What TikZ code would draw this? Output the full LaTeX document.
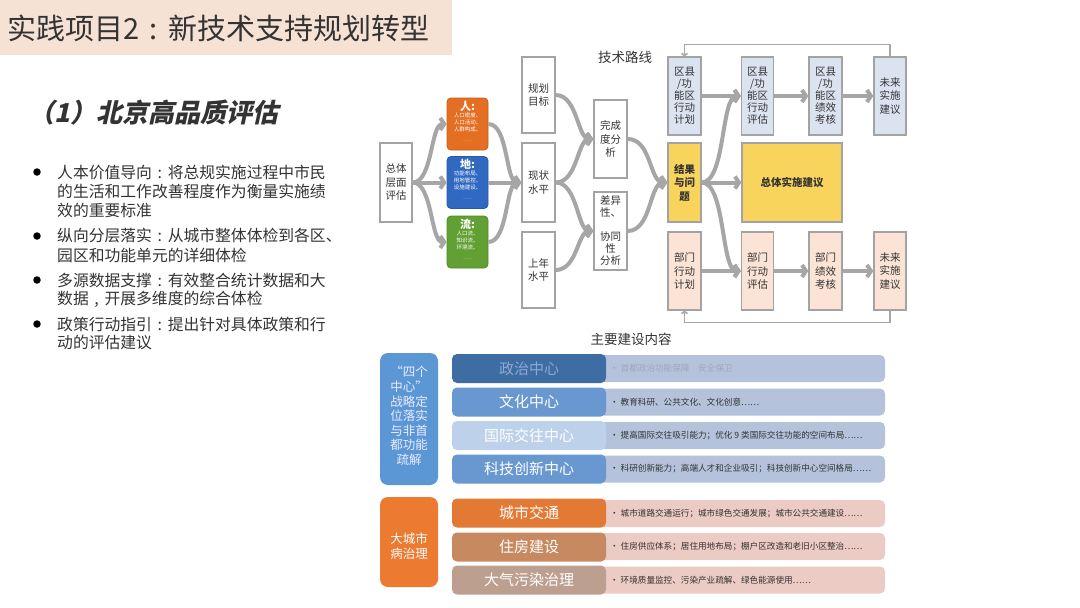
\documentclass[tikz,border=0pt]{standalone}
\usepackage{fontspec}
\setmainfont{Noto Sans CJK SC}
\newfontfamily\subfont{Noto Sans CJK SC}[UprightFeatures={FakeSlant=0.22}, BoldFeatures={FakeSlant=0.22}]
\usetikzlibrary{arrows.meta}
\newcommand{\cnc}{\hspace{0.36em}:\hspace{0.36em}}
\newcommand{\cnm}{\hspace{0.36em},\hspace{0.36em}}
\definecolor{txt}{HTML}{333333}
\definecolor{bd}{HTML}{A3A3A3}
\definecolor{arr}{HTML}{A6A6A6}
\definecolor{banner}{HTML}{F6E2D4}
\definecolor{qx}{HTML}{DCE3F0}
\definecolor{bm}{HTML}{FBE3D6}
\definecolor{yl}{HTML}{F9D45C}
\definecolor{corg}{HTML}{E46F22}
\definecolor{cblu}{HTML}{3169C2}
\definecolor{cgrn}{HTML}{62A034}
\definecolor{lblue}{HTML}{5B97D5}
\definecolor{lorg}{HTML}{EC7A30}
\definecolor{zzc}{HTML}{3E6DA4}
\definecolor{zzt}{HTML}{8EA9CF}
\definecolor{whc}{HTML}{6898CF}
\definecolor{gjc}{HTML}{BDD1EA}
\definecolor{csc}{HTML}{E27A35}
\definecolor{zfc}{HTML}{C78A60}
\definecolor{dqc}{HTML}{BC9F8F}
\definecolor{cbl}{HTML}{B4C3DB}
\definecolor{cpk}{HTML}{EBCBC3}
\definecolor{ctx}{HTML}{333333}
\begin{document}
\begin{tikzpicture}[x=1pt,y=-1pt,
 wbox/.style={draw=bd, line width=1.3pt, fill=white, align=center, inner sep=0pt, text=txt, font=\fontsize{10.5}{13.5}\selectfont},
 qbox/.style={wbox, fill=qx, font=\fontsize{10.5}{12}\selectfont},
 pbox/.style={wbox, fill=bm},
 ybox/.style={wbox, fill=yl, font=\fontsize{10.5}{13.5}\selectfont\bfseries},
 cbox/.style={rounded corners=4pt, draw=#1!85!black, line width=0.8pt, fill=#1, minimum width=41pt, minimum height=52pt, inner sep=0pt},
 chead/.style={font=\fontsize{11}{12}\selectfont\bfseries, text=white, inner sep=0pt},
 cbody/.style={font=\fontsize{5.5}{7}\selectfont, text=white, align=center, inner sep=0pt},
 cdots/.style={font=\fontsize{4}{5}\selectfont, text=white, inner sep=0pt},
 arw/.style={draw=arr, line width=4pt, -{Straight Barb[length=4pt,width=12pt]}},
 fb/.style={draw=arr, line width=1.6pt, -{Straight Barb[length=2pt,width=6pt]}},
 bul/.style={circle, fill=black, minimum size=7.5pt, inner sep=0pt},
 btxt/.style={anchor=west, font=\fontsize{15.8}{17}\selectfont, text=txt, inner sep=0pt},
 lab/.style={rounded corners=5pt, minimum width=154pt, minimum height=29pt, inner sep=0pt, font=\fontsize{15}{16}\selectfont},
 cont/.style={rounded corners=5pt, minimum width=285pt, minimum height=27pt, inner sep=0pt},
 ctext/.style={anchor=west, font=\fontsize{8.6}{10}\selectfont, text=ctx, inner sep=0pt},
]
\useasboundingbox (0,0) rectangle (1080,608);
\fill[white] (0,0) rectangle (1080,608);

% title
\node[fill=banner, minimum width=452pt, minimum height=55pt, anchor=north west, inner sep=0pt] (banner) at (0,0) {};
\node[anchor=west, font=\fontsize{29}{30}\selectfont, text=txt, inner sep=0pt] (title) at (7,28) {实践项目2\cnc 新技术支持规划转型};
\node[anchor=west, font=\fontsize{26}{27}\subfont\bfseries, text=txt, inner sep=0pt] (sub) at (28,113) {（1）北京高品质评估};

% bullets
\node[bul] (b1) at (37,172) {};
\node[btxt] (t11) at (57,172) {人本价值导向\cnc 将总规实施过程中市民};
\node[btxt] (t12) at (57,191) {的生活和工作改善程度作为衡量实施绩};
\node[btxt] (t13) at (57,210) {效的重要标准};
\node[bul] (b2) at (37,236) {};
\node[btxt] (t21) at (57,236) {纵向分层落实\cnc 从城市整体体检到各区、};
\node[btxt] (t22) at (57,255) {园区和功能单元的详细体检};
\node[bul] (b3) at (37,280) {};
\node[btxt] (t31) at (57,280) {多源数据支撑\cnc 有效整合统计数据和大};
\node[btxt] (t32) at (57,299) {数据\cnm 开展多维度的综合体检};
\node[bul] (b4) at (37,324) {};
\node[btxt] (t41) at (57,324) {政策行动指引\cnc 提出针对具体政策和行};
\node[btxt] (t42) at (57,343) {动的评估建议};

% technical route
\node[font=\fontsize{13.5}{14}\selectfont, text=txt] (jslx) at (625,57) {技术路线};
\node[wbox, minimum width=32pt, minimum height=79pt] (zt) at (396,182.5) {总体\\层面\\评估};

\node[cbox=corg] (ren) at (467.5,124) {};
\node[chead] (renh) at (467.5,106) {人:};
\node[cbody] (renb) at (467.5,122) {人口密度、\\人口活动、\\人群构成、};
\node[cdots] (rend) at (467.5,141) {……};
\node[cbox=cblu] (di) at (467.5,182.5) {};
\node[chead] (dih) at (467.5,164.5) {地:};
\node[cbody] (dib) at (467.5,180.5) {功能布局、\\用地管控、\\设施建设、};
\node[cdots] (did) at (467.5,199.5) {……};
\node[cbox=cgrn] (liu) at (467.5,242) {};
\node[chead] (liuh) at (467.5,224) {流:};
\node[cbody] (liub) at (467.5,240) {人口流、\\知识流、\\环境流、};
\node[cdots] (liud) at (467.5,259) {……};

\node[wbox, minimum width=33pt, minimum height=76pt] (gh) at (538.5,95) {规划\\目标};
\node[wbox, minimum width=33pt, minimum height=79pt] (xz) at (538.5,182.5) {现状\\水平};
\node[wbox, minimum width=33pt, minimum height=76pt] (sn) at (538.5,270) {上年\\水平};
\node[wbox, minimum width=33pt, minimum height=78pt] (wc) at (610.5,139) {完成\\度分\\析};
\node[wbox, minimum width=33pt, minimum height=78pt, font=\fontsize{10.5}{12}\selectfont] (cy) at (610.5,231) {差异\\性、\\ \\协同\\性\\分析};

\node[qbox, minimum width=33pt, minimum height=78pt] (qjh) at (684.5,96) {区县\\/功\\能区\\行动\\计划};
\node[qbox, minimum width=32pt, minimum height=78pt] (qpg) at (757.5,96) {区县\\/功\\能区\\行动\\评估};
\node[qbox, minimum width=33pt, minimum height=78pt] (qkh) at (825.5,96) {区县\\/功\\能区\\绩效\\考核};
\node[qbox, minimum width=32pt, minimum height=78pt, font=\fontsize{10.5}{13.5}\selectfont] (qwl) at (890,96) {未来\\实施\\建议};

\node[ybox, minimum width=33pt, minimum height=79pt] (jg) at (684.5,182.5) {结果\\与问\\题};
\node[ybox, minimum width=100pt, minimum height=79pt] (ztjy) at (792,182.5) {总体实施建议};

\node[pbox, minimum width=33pt, minimum height=78pt] (bjh) at (684.5,271) {部门\\行动\\计划};
\node[pbox, minimum width=32pt, minimum height=78pt] (bpg) at (757.5,271) {部门\\行动\\评估};
\node[pbox, minimum width=33pt, minimum height=78pt] (bkh) at (825.5,271) {部门\\绩效\\考核};
\node[pbox, minimum width=32pt, minimum height=78pt] (bwl) at (890,271) {未来\\实施\\建议};

% arrows
\draw[arw] (zt.east) .. controls +(20,0) and +(-16,0) .. (ren.west);
\draw[arw] (zt.east) -- (di.west);
\draw[arw] (zt.east) .. controls +(20,0) and +(-16,0) .. (liu.west);
\draw[arw] (ren.east) .. controls +(20,0) and +(-16,0) .. (xz.west);
\draw[arw] (di.east) -- (xz.west);
\draw[arw] (liu.east) .. controls +(20,0) and +(-16,0) .. (xz.west);
\draw[arw] (gh.east) .. controls +(22,0) and +(-16,0) .. (wc.west);
\draw[arw] (xz.east) .. controls +(22,0) and +(-16,0) .. (wc.west);
\draw[arw] (xz.east) .. controls +(22,0) and +(-16,0) .. (cy.west);
\draw[arw] (sn.east) .. controls +(22,0) and +(-16,0) .. (cy.west);
\draw[arw] (wc.east) .. controls +(24,0) and +(-18,0) .. (jg.west);
\draw[arw] (cy.east) .. controls +(24,0) and +(-18,0) .. (jg.west);
\draw[arw] (jg.east) .. controls +(24,0) and +(-20,0) .. (qpg.west);
\draw[arw] (jg.east) -- (ztjy.west);
\draw[arw] (jg.east) .. controls +(24,0) and +(-20,0) .. (bpg.west);
\draw[arw] (qjh.east) -- (qpg.west);
\draw[arw] (qpg.east) -- (qkh.west);
\draw[arw] (qkh.east) -- (qwl.west);
\draw[arw] (bjh.east) -- (bpg.west);
\draw[arw] (bpg.east) -- (bkh.west);
\draw[arw] (bkh.east) -- (bwl.west);
\draw[fb] (qwl.north) -- ++(0,-12) -| (qjh.north);
\draw[fb] (bwl.south) -- ++(0,12) -| (bjh.south);

% main contents
\node[font=\fontsize{13.5}{14}\selectfont, text=txt] (zyjs) at (631,339) {主要建设内容};
\node[rounded corners=8pt, fill=lblue, minimum width=58pt, minimum height=132pt, inner sep=0pt] (szx) at (409,419) {};
\node[align=center, font=\fontsize{12.5}{14.6}\selectfont, text=white!92!blue, inner sep=0pt] (szxt) at (409,416) {“四个\\中心”\\战略定\\位落实\\与非首\\都功能\\疏解};
\node[rounded corners=8pt, fill=lorg, minimum width=58pt, minimum height=90pt, inner sep=0pt] (dcs) at (409,542) {};
\node[align=center, font=\fontsize{12.5}{14.6}\selectfont, text=white, inner sep=0pt] (dcst) at (409,546) {大城市\\病治理};

\node[cont, fill=cbl] (c1) at (742.5,368.5) {};
\node[cont, fill=cbl] (c2) at (742.5,402) {};
\node[cont, fill=cbl] (c3) at (742.5,435.5) {};
\node[cont, fill=cbl] (c4) at (742.5,469) {};
\node[cont, fill=cpk] (c5) at (742.5,513.5) {};
\node[cont, fill=cpk] (c6) at (742.5,546.5) {};
\node[cont, fill=cpk] (c7) at (742.5,580) {};

\node[lab, fill=zzc, text=zzt] (l1) at (529,368.5) {政治中心};
\node[lab, fill=whc, text=white] (l2) at (529,402) {文化中心};
\node[lab, fill=gjc, text=white] (l3) at (529,435.5) {国际交往中心};
\node[lab, fill=whc, text=white] (l4) at (529,469) {科技创新中心};
\node[lab, fill=csc, text=white] (l5) at (529,513) {城市交通};
\node[lab, fill=zfc, text=white] (l6) at (529,547) {住房建设};
\node[lab, fill=dqc, text=white] (l7) at (529,580) {大气污染治理};

\node[ctext, text=cbl!60!gray] (x1) at (610,368.5) {• 首都政治功能保障　安全保卫};
\node[ctext] (x2) at (610,402) {• 教育科研、公共文化、文化创意……};
\node[ctext] (x3) at (610,435.5) {• 提高国际交往吸引能力；优化 9 类国际交往功能的空间布局……};
\node[ctext] (x4) at (610,469) {• 科研创新能力；高端人才和企业吸引；科技创新中心空间格局……};
\node[ctext] (x5) at (610,513.5) {• 城市道路交通运行；城市绿色交通发展；城市公共交通建设……};
\node[ctext] (x6) at (610,546.5) {• 住房供应体系；居住用地布局；棚户区改造和老旧小区整治……};
\node[ctext] (x7) at (610,580) {• 环境质量监控、污染产业疏解、绿色能源使用……};
\end{tikzpicture}
\end{document}
